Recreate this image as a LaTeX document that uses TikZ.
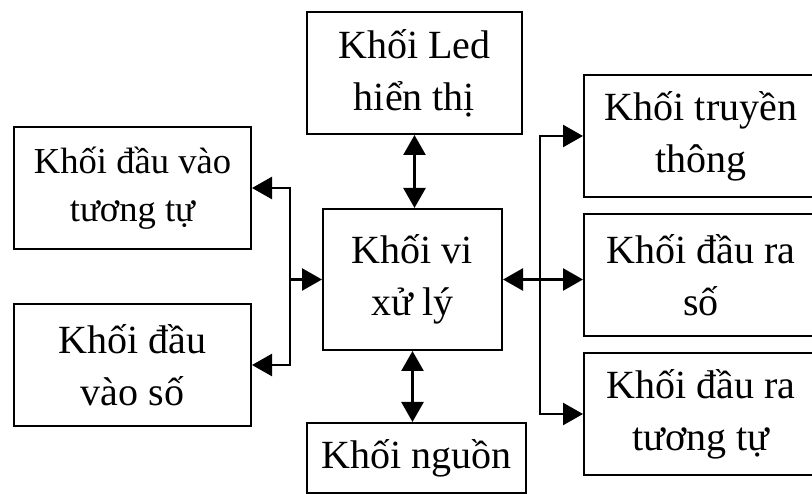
\documentclass[tikz,border=0pt]{standalone}
\usepackage{fontspec}
\setmainfont{Liberation Serif}
\usetikzlibrary{positioning,calc,arrows.meta}
\tikzset{>={Triangle[length=20pt,width=22pt]},
  blk/.style={draw, line width=2pt, align=center, inner sep=0pt,
  font=\fontsize{40}{52}\selectfont},
  link/.style={line width=2.5pt}}
\newcommand{\bnode}[5]{\node [blk, minimum width=#4, minimum height=#5] (#1) at (#2) {#3}}

\begin{document}
\begin{tikzpicture}[x=1pt,y=-1pt]
\clip (0,0) rectangle (812,494);
\bnode{LED}{414.5,73}{Khối Led\\hiển thị}{215pt}{122pt};
\node [blk, minimum width=237pt, minimum height=122pt,
  font=\fontsize{36.6}{48}\selectfont] (VAOTT) at (132.5,188) {Khối đầu vào\\tương tự};
\bnode{VAOSO}{132.5,365}{Khối đầu\\vào số}{237pt}{122pt};
\bnode{CPU}{412.5,279.5}{Khối vi\\xử lý}{179pt}{141pt};
\bnode{NGUON}{416.5,458}{Khối nguồn}{219pt}{70pt};
\bnode{TRUYEN}{701,136}{Khối truyền\\thông}{234pt}{122pt};
\bnode{RASO}{701,275}{Khối đầu ra\\số}{234pt}{122pt};
\bnode{RATT}{701,414}{Khối đầu ra\\tương tự}{234pt}{122pt};

\coordinate (BL) at (289,279.5);

\draw[link, <->] (LED.south) -- (LED.south |- CPU.north);
\draw[link, <->] (CPU.south) -- (CPU.south |- NGUON.north);
\draw[link, <->] (VAOTT.east) -- ++(38,0) |- (VAOSO.east);
\draw[link, ->] (BL) -- (CPU.west);
\draw[link, <->] (TRUYEN.west) -- ++(-43,0) |- (RATT.west);
\draw[link, <->] (CPU.east) -- (CPU.east -| RASO.west);

\end{tikzpicture}
\end{document}
